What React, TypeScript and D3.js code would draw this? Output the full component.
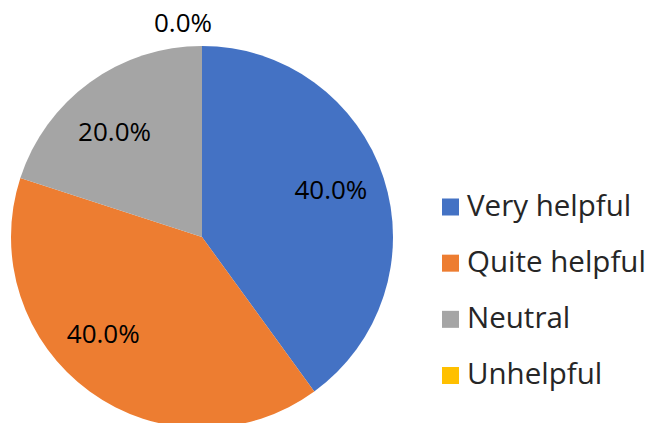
import { useEffect, useRef } from "react";
import * as d3 from "d3";

const categories = ["Very helpful", "Quite helpful", "Neutral", "Unhelpful"];
const values = [40, 40, 20, 0];
const colors = ["#4472C4", "#ED7D31", "#A5A5A5", "#FFC000"];
// best-fit label nudges (degrees) like the original layout
const labelAngleShift = [-2.4, 9.9, -3.5, 0];

const App = () => {
    const svgRef = useRef<SVGSVGElement>(null);

    useEffect(() => {
        const svg = d3.select(svgRef.current);
        svg.selectAll("*").remove();
        const cx = 202;
        const cy = 237;
        const radius = 191;
        const font = "'Open Sans', 'Noto Sans', sans-serif";

        const total = d3.sum(values);
        const rows = categories.map((c, i) => ({ name: c, value: values[i], color: colors[i], shift: labelAngleShift[i] }));

        const pie = d3.pie<any>().value((d) => d.value).sort(null);
        const arcs = pie(rows);
        const arc = d3.arc<any>().innerRadius(0).outerRadius(radius);

        const g = svg.append("g").attr("transform", `translate(${cx},${cy})`);

        g.selectAll("path.slice")
            .data(arcs)
            .join("path")
            .attr("class", "slice")
            .attr("d", arc)
            .attr("fill", (d) => d.data.color);

        // data labels
        arcs.forEach((d) => {
            const pct = ((d.data.value / total) * 100).toFixed(1) + "%";
            let x, y;
            if (d.data.value === 0) {
                const a = d.startAngle;
                x = Math.sin(a) * (radius + 24) - 19;
                y = -Math.cos(a) * (radius + 24);
            } else {
                const a = (d.startAngle + d.endAngle) / 2 + (d.data.shift * Math.PI) / 180;
                const lr = radius * 0.72;
                x = Math.sin(a) * lr;
                y = -Math.cos(a) * lr;
            }
            g.append("text")
                .attr("x", x)
                .attr("y", y)
                .attr("text-anchor", "middle")
                .attr("dominant-baseline", "central")
                .attr("font-family", font)
                .attr("font-size", 26)
                .attr("fill", "#000")
                .text(pct);
        });

        // legend
        const ly = d3.scalePoint().domain(categories).range([207, 375.5]);
        const legend = svg.append("g").attr("transform", "translate(442,0)");
        rows.forEach((r) => {
            const row = legend.append("g").attr("transform", `translate(0,${ly(r.name)})`);
            row.append("rect")
                .attr("x", 0)
                .attr("y", -8.5)
                .attr("width", 17)
                .attr("height", 17)
                .attr("fill", r.color);
            row.append("text")
                .attr("x", 25)
                .attr("y", -3)
                .attr("dominant-baseline", "central")
                .attr("font-family", font)
                .attr("font-size", 29.5)
                .attr("fill", "#262626")
                .text(r.name);
        });
    }, []);

    return (
        <svg
            ref={svgRef}
            width={649}
            height={423}
            style={{ position: "absolute", left: 0, top: 0, background: "#fff" }}
        />
    );
};

export default App;
